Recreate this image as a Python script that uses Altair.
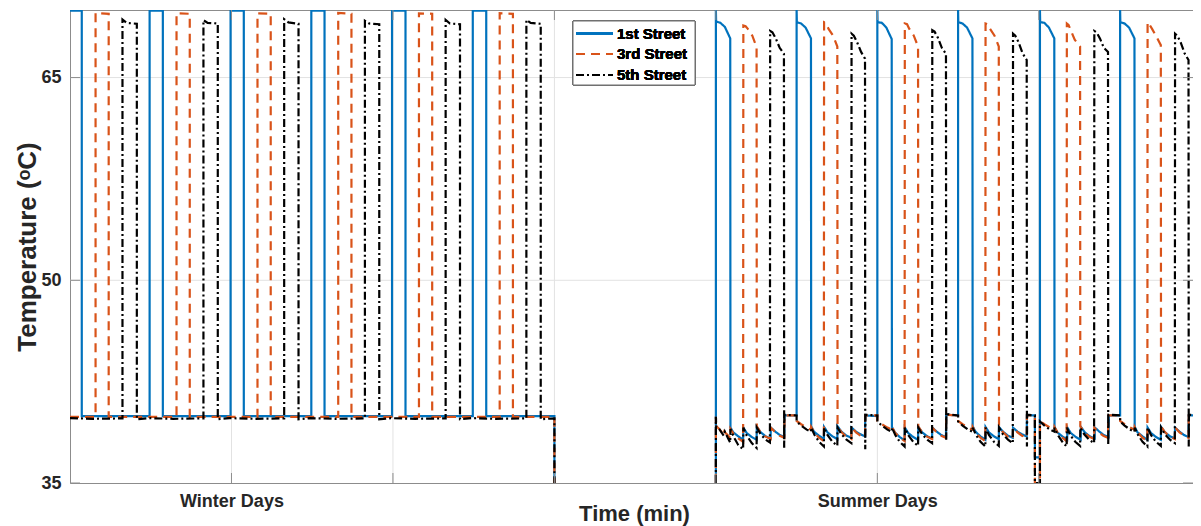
import altair as alt
import pandas as pd

# ---------------- data (time in minutes, temperature in degC) ----------------
day_ticks = [1440, 2880, 4320, 5760, 7200, 8640]
ytick_values = [35, 50, 65]
ygrid_values = [50, 65]
season_pos = [1440, 7200]
season_labels = ["Winter Days", "Summer Days"]
series_names = ["1st Street", "3rd Street", "5th Street"]
series_colors = ["#0072BD", "#D95319", "#000000"]
series_dash = [[1, 0], [9, 6], [8, 3, 2, 3]]

winter_1st = [(0, 69.95), (105, 69.95), (105, 39.95), (710, 39.95), (710, 69.95), (828, 69.95), (828, 39.95),
              (1432, 39.95), (1432, 69.95), (1550, 69.95), (1550, 39.95), (2152, 39.95), (2152, 69.95),
              (2270, 69.95), (2270, 39.95), (2872, 39.95), (2872, 69.95), (2992, 69.95), (2992, 39.95),
              (3592, 39.95), (3592, 69.95), (3712, 69.95), (3712, 39.95), (4320, 39.95), (4320, 35.0)]

winter_3rd = [(0, 39.9), (228, 39.9), (228, 69.78), (345, 69.72), (345, 39.9), (950, 39.9), (950, 69.76),
              (1068, 69.72), (1068, 39.9), (1672, 39.9), (1672, 69.75), (1790, 69.72), (1790, 39.9),
              (2392, 39.9), (2392, 69.78), (2510, 69.72), (2510, 39.9), (3112, 39.9), (3112, 69.75),
              (3230, 69.72), (3230, 39.9), (3832, 39.9), (3832, 69.76), (3950, 69.72), (3950, 39.9),
              (4320, 39.9), (4320, 35.0)]

winter_5th = [(0, 39.8), (200, 39.75), (468, 39.78), (468, 69.3), (505, 69.05), (596, 68.98), (596, 39.72),
              (700, 39.8), (920, 39.75), (1190, 39.78), (1190, 69.25), (1228, 69.05), (1318, 69.0),
              (1318, 39.72), (1420, 39.8), (1640, 39.75), (1910, 39.78), (1910, 69.32), (1948, 69.08),
              (2038, 68.98), (2038, 39.72), (2140, 39.8), (2360, 39.75), (2630, 39.78), (2630, 69.2),
              (2668, 69.0), (2758, 68.95), (2758, 39.72), (2860, 39.8), (3080, 39.75), (3350, 39.78),
              (3350, 69.27), (3388, 69.0), (3478, 68.95), (3478, 39.72), (3580, 39.8), (3800, 39.75),
              (4070, 39.78), (4070, 69.27), (4108, 69.05), (4198, 68.98), (4198, 39.72), (4320, 39.78),
              (4320, 35.0)]

summer_1st = [(5760, 35.0), (5760, 70.0), (5762, 69.15), (5800, 69.05), (5840, 68.75), (5888, 67.9),
              (5890, 39.1), (5915, 38.75), (5960, 38.45), (6003, 38.2), (6005, 39.1), (6035, 38.7),
              (6080, 38.4), (6123, 38.2), (6125, 39.15), (6160, 38.75), (6205, 38.45), (6248, 38.3),
              (6250, 39.1), (6290, 38.8), (6330, 38.55), (6370, 38.4), (6372, 40.0), (6480, 40.0),
              (6480, 70.0), (6482, 69.1), (6520, 69.0), (6560, 68.7), (6608, 67.9), (6610, 39.2),
              (6635, 38.8), (6680, 38.5), (6723, 38.25), (6725, 39.15), (6755, 38.75), (6800, 38.45),
              (6843, 38.25), (6845, 39.2), (6880, 38.8), (6925, 38.5), (6968, 38.35), (6970, 39.1),
              (7010, 38.8), (7050, 38.6), (7090, 38.45), (7092, 40.0), (7200, 39.95),
              (7200, 70.0), (7202, 69.1), (7240, 69.05), (7280, 68.7), (7328, 67.85), (7330, 39.15),
              (7355, 38.75), (7400, 38.4), (7443, 38.15), (7445, 39.1), (7475, 38.7), (7520, 38.4),
              (7563, 38.2), (7565, 39.15), (7600, 38.75), (7645, 38.45), (7688, 38.3), (7690, 39.1),
              (7730, 38.8), (7770, 38.55), (7812, 38.4), (7814, 40.05), (7920, 40.0),
              (7920, 70.0), (7922, 69.1), (7960, 69.0), (8000, 68.7), (8048, 67.9), (8050, 39.2),
              (8075, 38.8), (8120, 38.45), (8163, 38.2), (8165, 39.15), (8195, 38.75), (8240, 38.45),
              (8283, 38.25), (8285, 39.15), (8320, 38.8), (8365, 38.5), (8408, 38.35), (8410, 39.1),
              (8450, 38.8), (8490, 38.6), (8532, 38.45), (8534, 40.0), (8605, 40.0), (8605, 36.9),
              (8650, 36.9),
              (8650, 70.0), (8652, 69.1), (8690, 69.05), (8730, 68.7), (8778, 67.9), (8780, 39.15),
              (8805, 38.75), (8850, 38.45), (8893, 38.2), (8895, 39.1), (8925, 38.7), (8970, 38.4),
              (9013, 38.2), (9015, 39.15), (9050, 38.75), (9095, 38.45), (9138, 38.3), (9140, 39.1),
              (9180, 38.8), (9220, 38.55), (9262, 38.4), (9264, 40.0), (9365, 40.0),
              (9365, 70.0), (9367, 69.1), (9405, 69.0), (9445, 68.7), (9493, 67.9), (9495, 39.15),
              (9520, 38.75), (9565, 38.45), (9608, 38.2), (9610, 39.1), (9640, 38.7), (9685, 38.4),
              (9728, 38.2), (9730, 39.15), (9765, 38.75), (9810, 38.45), (9853, 38.3), (9855, 39.1),
              (9895, 38.8), (9935, 38.55), (9975, 38.4), (9977, 40.0), (10045, 40.0), (10045, 36.9),
              (10080, 36.6)]

summer_3rd = [(5760, 35.0), (5760, 39.9), (5765, 39.2), (5790, 39.0), (5830, 38.55), (5835, 38.8),
              (5888, 38.35), (5890, 39.0), (5920, 38.6), (5960, 38.3), (6003, 38.05), (6005, 68.85),
              (6025, 68.8), (6045, 68.6), (6085, 68.1), (6123, 67.25), (6125, 39.2), (6155, 38.8),
              (6200, 38.45), (6248, 38.25), (6250, 39.1), (6290, 38.75), (6330, 38.5), (6370, 38.35),
              (6372, 40.0), (6480, 40.0),
              (6480, 39.6), (6520, 39.35), (6570, 39.1), (6608, 38.95), (6610, 39.15), (6640, 38.7),
              (6680, 38.35), (6723, 38.1), (6725, 69.1), (6740, 69.05), (6765, 68.6), (6805, 68.1),
              (6843, 67.3), (6845, 39.2), (6875, 38.8), (6920, 38.45), (6968, 38.25), (6970, 39.1),
              (7010, 38.75), (7050, 38.5), (7090, 38.35), (7092, 40.0), (7200, 40.0),
              (7200, 39.6), (7240, 39.35), (7290, 39.1), (7328, 38.95), (7330, 39.15), (7360, 38.7),
              (7400, 38.35), (7443, 38.1), (7445, 69.0), (7465, 68.95), (7485, 68.6), (7525, 68.1),
              (7563, 67.3), (7565, 39.2), (7595, 38.8), (7640, 38.45), (7688, 38.25), (7690, 39.1),
              (7730, 38.75), (7770, 38.5), (7812, 38.35), (7814, 40.05), (7920, 40.0),
              (7920, 39.6), (7960, 39.35), (8010, 39.1), (8048, 38.95), (8050, 39.15), (8080, 38.7),
              (8120, 38.35), (8163, 38.1), (8165, 69.0), (8185, 68.95), (8205, 68.6), (8245, 68.1),
              (8283, 67.3), (8285, 39.2), (8315, 38.8), (8360, 38.45), (8408, 38.25), (8410, 39.1),
              (8450, 38.75), (8490, 38.5), (8532, 38.35), (8534, 40.0), (8605, 40.0), (8605, 35.0),
              (8650, 35.0),
              (8650, 39.6), (8690, 39.35), (8740, 39.1), (8778, 38.95), (8780, 39.15), (8810, 38.7),
              (8850, 38.35), (8888, 38.1), (8890, 69.0), (8905, 68.9), (8930, 68.4), (8960, 67.8),
              (9008, 67.3), (9010, 39.2), (9040, 38.8), (9085, 38.45), (9133, 38.25), (9135, 39.1),
              (9175, 38.75), (9215, 38.5), (9257, 38.35), (9259, 40.0), (9365, 40.0),
              (9365, 39.6), (9405, 39.35), (9455, 39.1), (9493, 38.95), (9495, 39.15), (9525, 38.7),
              (9565, 38.35), (9608, 38.1), (9610, 69.1), (9625, 68.95), (9650, 68.6), (9690, 68.0),
              (9728, 67.4), (9730, 39.2), (9760, 38.8), (9805, 38.45), (9853, 38.25), (9855, 39.1),
              (9895, 38.75), (9935, 38.5), (9975, 38.35), (9977, 40.0), (10045, 40.0), (10045, 35.0),
              (10080, 35.0)]

summer_5th = [(5760, 35.0), (5760, 39.9), (5763, 39.15), (5790, 39.0), (5830, 38.5), (5840, 38.8),
              (5875, 38.2), (5888, 38.0), (5890, 39.0), (5920, 38.4), (5960, 37.8), (6003, 37.5),
              (6005, 39.1), (6035, 38.5), (6080, 37.95), (6123, 37.6), (6125, 39.1), (6160, 38.6),
              (6205, 38.2), (6242, 38.0), (6244, 68.45), (6264, 68.35), (6294, 67.9), (6329, 67.2),
              (6367, 66.75), (6369, 37.6), (6371, 40.05), (6480, 40.0),
              (6480, 39.55), (6520, 39.25), (6570, 38.95), (6608, 38.8), (6610, 39.1), (6640, 38.55),
              (6680, 38.05), (6723, 37.7), (6725, 39.1), (6755, 38.55), (6800, 38.05), (6843, 37.75),
              (6845, 39.1), (6880, 38.6), (6925, 38.2), (6968, 37.95), (6970, 68.25), (6990, 68.1),
              (7020, 67.6), (7055, 66.9), (7090, 66.4), (7092, 37.5), (7094, 40.05), (7200, 40.0),
              (7200, 39.55), (7240, 39.25), (7290, 38.95), (7328, 38.8), (7330, 39.1), (7360, 38.55),
              (7400, 38.05), (7443, 37.7), (7445, 39.1), (7475, 38.55), (7520, 38.05), (7563, 37.75),
              (7565, 39.1), (7600, 38.6), (7645, 38.2), (7688, 37.95), (7690, 68.5), (7710, 68.4),
              (7740, 67.95), (7775, 67.2), (7812, 66.75), (7814, 38.2), (7816, 40.1), (7920, 40.0),
              (7920, 39.55), (7960, 39.25), (8010, 38.95), (8048, 38.8), (8050, 39.1), (8080, 38.55),
              (8120, 38.05), (8163, 37.7), (8165, 39.1), (8195, 38.55), (8240, 38.05), (8283, 37.75),
              (8285, 39.1), (8320, 38.6), (8365, 38.2), (8408, 37.95), (8410, 68.25), (8430, 68.1),
              (8460, 67.6), (8495, 66.8), (8532, 66.3), (8534, 37.7), (8536, 40.05), (8605, 40.0),
              (8605, 35.0), (8650, 35.0),
              (8650, 39.55), (8690, 39.25), (8740, 38.95), (8778, 38.8), (8780, 39.1), (8810, 38.55),
              (8850, 38.05), (8888, 37.7), (8890, 39.1), (8920, 38.55), (8965, 38.05), (9008, 37.75),
              (9010, 39.1), (9045, 38.6), (9090, 38.2), (9133, 37.95), (9135, 68.45), (9155, 68.35),
              (9185, 67.9), (9220, 67.2), (9257, 66.9), (9259, 37.8), (9261, 40.05), (9365, 40.0),
              (9365, 39.55), (9405, 39.25), (9455, 38.95), (9493, 38.8), (9495, 39.1), (9525, 38.55),
              (9565, 38.05), (9608, 37.7), (9610, 39.1), (9640, 38.55), (9685, 38.05), (9728, 37.75),
              (9730, 39.1), (9765, 38.6), (9810, 38.2), (9853, 37.95), (9855, 68.25), (9875, 68.1),
              (9905, 67.6), (9940, 66.8), (9975, 66.3), (9977, 37.7), (9979, 40.05), (10045, 40.0),
              (10045, 35.0), (10080, 35.0)]


def seg_frame(pts, seg):
    return pd.DataFrame({"t": [p[0] for p in pts], "v": [p[1] for p in pts], "seg": seg})


def series_frame(w, s):
    df = pd.concat([seg_frame(w, "winter"), seg_frame(s, "summer")], ignore_index=True)
    df["i"] = range(len(df))
    return df


frames = [series_frame(winter_1st, summer_1st),
          series_frame(winter_3rd, summer_3rd),
          series_frame(winter_5th, summer_5th)]

# ---------------- chart ----------------
W, H = 1123, 473
AX = "#8c8c8c"
TXT = "#262626"
GRID = "#e2e2e2"
FONT = "Liberation Sans"

xs = alt.Scale(domain=[0, 10015], nice=False, zero=False)
ys = alt.Scale(domain=[35, 70], nice=False, zero=False)

label_expr = "datum.value == %d ? '%s' : '%s'" % (season_pos[0], season_labels[0], season_labels[1])

xaxis = alt.Axis(values=season_pos, labelExpr=label_expr, ticks=False, domain=False, grid=False,
                 labelFont=FONT, labelFontSize=18, labelFontWeight="bold", labelColor=TXT,
                 labelPadding=9, labelFlush=False, title="Time (min)", titleFont=FONT, titleFontSize=22,
                 titleFontWeight="bold", titleColor=TXT, titleX=564, titleY=30, titleBaseline="middle")
yaxis = alt.Axis(values=ytick_values, ticks=False, domain=False, grid=False,
                 labelFont=FONT, labelFontSize=18, labelFontWeight="bold", labelColor=TXT,
                 labelPadding=9, title="Temperature (ᵒC)", titleFont=FONT, titleFontSize=26,
                 titleFontWeight="bold", titleColor=TXT, titleX=-43, titleY=H / 2,
                 titleBaseline="middle", titleAngle=270)

X = alt.X("t:Q", scale=xs, axis=xaxis)
Y = alt.Y("v:Q", scale=ys, axis=yaxis)

day_df = pd.DataFrame({"t": day_ticks})
ygrid_df = pd.DataFrame({"v": ygrid_values})
ytick_df = pd.DataFrame({"v": ytick_values})

grid_x = alt.Chart(day_df).mark_rule(color=GRID, strokeWidth=1).encode(
    x=X, y=alt.value(0), y2=alt.value(H))
grid_y = alt.Chart(ygrid_df).mark_rule(color=GRID, strokeWidth=1).encode(
    y=Y, x=alt.value(0), x2=alt.value(W))

lines = []
for df, col, dash in zip(frames, series_colors, series_dash):
    lines.append(alt.Chart(df).mark_line(color=col, strokeWidth=2.2, strokeDash=dash, clip=True,
                                         strokeJoin="miter", strokeCap="butt").encode(
        x=X, y=Y, detail="seg:N", order="i:Q"))

tick_b = alt.Chart(day_df).mark_rule(color=AX).encode(x=X, y=alt.value(H), y2=alt.value(H - 10))
tick_t = alt.Chart(day_df).mark_rule(color=AX).encode(x=X, y=alt.value(0), y2=alt.value(10))
tick_l = alt.Chart(ytick_df).mark_rule(color=AX).encode(y=Y, x=alt.value(0), x2=alt.value(10))
tick_r = alt.Chart(ytick_df).mark_rule(color=AX).encode(y=Y, x=alt.value(W - 10), x2=alt.value(W))

# legend (MATLAB-style box inside the axes)
leg_box = alt.Chart(day_df).mark_rect(fill="white", stroke="#6e6e6e", strokeWidth=1).encode(
    x=alt.value(503), x2=alt.value(625), y=alt.value(11), y2=alt.value(75))
leg_layers = [leg_box]
row_y = [23.5, 44, 65]
for name, col, dash, ry in zip(series_names, series_colors, series_dash, row_y):
    leg_layers.append(alt.Chart(day_df).mark_rule(color=col, strokeWidth=2.2, strokeDash=dash).encode(
        x=alt.value(506), x2=alt.value(543), y=alt.value(ry)))
    leg_layers.append(alt.Chart(day_df).mark_text(text=name, font=FONT, fontSize=15, fontWeight="bold",
                                                  color="black", align="left", baseline="middle").encode(
        x=alt.value(547), y=alt.value(ry)))

chart = alt.layer(grid_x, grid_y, *lines, tick_b, tick_t, tick_l, tick_r, *leg_layers).properties(
    width=W, height=H,
    padding={"left": 62, "top": 2, "right": 0, "bottom": 43},
    autosize=alt.AutoSizeParams(type="none"),
).configure(font=FONT).configure_view(stroke=AX, strokeWidth=1)

chart.save("out.html", embed_options={"renderer": "svg", "actions": False})
